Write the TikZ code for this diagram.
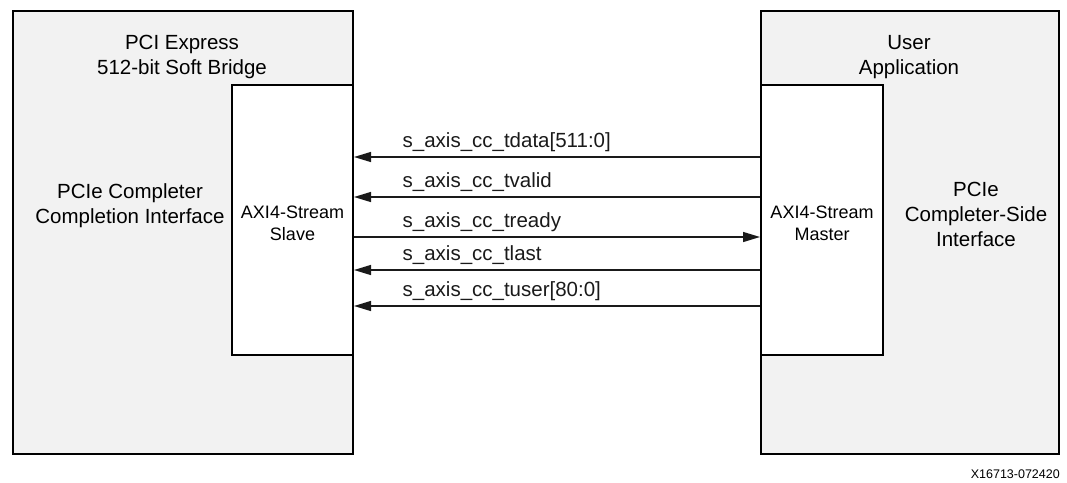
\documentclass[tikz,border=0pt]{standalone}
\usepackage{fontspec}
\setmainfont{Liberation Sans}
\usepackage{tikz}
\usetikzlibrary{arrows.meta, positioning, calc}
\definecolor{grisBloque}{HTML}{F2F2F2}
\definecolor{grisLinea}{HTML}{1A1A1A}

\begin{document}
\begin{tikzpicture}[x=1pt, y=-1pt,
        blq/.style={draw=black, fill=grisBloque, line width=2pt, inner sep=0pt, anchor=north west},
        port/.style={draw=black, fill=white, line width=2pt, inner sep=0pt, anchor=north west,
            minimum width=121, minimum height=270},
        txt/.style={align=center, font=\fontsize{20.5}{25}\selectfont},
        ptxt/.style={align=center, font=\fontsize{18}{22}\selectfont},
        lbl/.style={anchor=base west, xshift=48pt, yshift=10pt, inner sep=0pt, font=\fontsize{20.5}{24}\selectfont},
        sig/.style={grisLinea, line width=1.3pt},
        sigL/.style={sig, {Triangle[length=17pt, width=10pt]}-},
        sigR/.style={sig, -{Triangle[length=17pt, width=10pt]}}
    ]
        \useasboundingbox (0,0) rectangle (1067,482);

        % bloques
        \node[blq, minimum width=340, minimum height=443] (bridge) at (12,10) {};
        \node[blq, minimum width=298, minimum height=443] (user) at (760,10) {};
        \node[port] (slave) at (231,84) {};
        \node[port, minimum width=122] (master) at (760,84) {};

        \node[txt] (bridgeT) at (182,57) {PCI Express\\512-bit Soft Bridge};
        \node[txt] (userT) at (909,57) {User\\Application};
        \node[txt] (cci) at (130,206) {PCIe Completer\\Completion Interface};
        \node[txt] (csi) at (976,214) {PCIe\\Completer-Side\\Interface};
        \node[ptxt] (slaveT) at (slave.center |- 0,223) {AXI4-Stream\\Slave};
        \node[ptxt] (masterT) at (master.center |- 0,223) {AXI4-Stream\\Master};

        % senales
        \draw[sigL] (slave.east |- 0,157) -- node[lbl, pos=0] {s\_axis\_cc\_tdata[511:0]} (master.west |- 0,157);
        \draw[sigL] (slave.east |- 0,197) -- node[lbl, pos=0] {s\_axis\_cc\_tvalid} (master.west |- 0,197);
        \draw[sigR] (slave.east |- 0,237) -- node[lbl, pos=0] {s\_axis\_cc\_tready} (master.west |- 0,237);
        \draw[sigL] (slave.east |- 0,270) -- node[lbl, pos=0] {s\_axis\_cc\_tlast} (master.west |- 0,270);
        \draw[sigL] (slave.east |- 0,306) -- node[lbl, pos=0] {s\_axis\_cc\_tuser[80:0]} (master.west |- 0,306);

        \node[anchor=base east, inner sep=0pt, font=\fontsize{12.5}{14}\selectfont] (fig) at (1060,478) {X16713-072420};
    \end{tikzpicture}
\end{document}
